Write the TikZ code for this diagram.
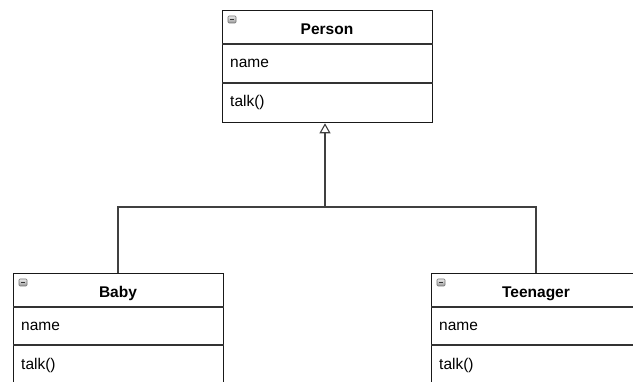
\documentclass[tikz,border=0pt]{standalone}
\usepackage{fontspec}
\setmainfont{Liberation Sans}
\usetikzlibrary{arrows.meta}
\begin{document}
\begin{tikzpicture}[x=1pt,y=-1pt,
  classbox/.style={draw=black!90, line width=1.3pt, fill=white, inner sep=0pt,
    minimum width=210pt, anchor=north west},
  sep/.style={draw=black!80, line width=1.3pt},
  link/.style={draw=black!75, line width=1.4pt},
  title/.style={font=\fontsize{15.5}{18}\selectfont\bfseries, anchor=base, inner sep=0pt},
  member/.style={font=\fontsize{15.5}{18}\selectfont, anchor=base west, inner sep=0pt},
  collapse/.pic={
    \shade[top color=black!8, bottom color=black!40, draw=black!55, line width=0.6pt,
      rounded corners=1pt] (0,0) rectangle (8,7);
    \draw[black!80, line width=1.1pt] (2,3.5) -- (6,3.5);
  }]
\useasboundingbox (0,0) rectangle (633,382);
\clip (0,0) rectangle (633,382);

% Person
\node[classbox, minimum height=112pt] (person) at (222,10) {};
\draw[sep] ([yshift=-34pt]person.north west) -- ([yshift=-34pt]person.north east);
\draw[sep] ([yshift=-73pt]person.north west) -- ([yshift=-73pt]person.north east);
\pic at (228,16) {collapse};
\node[title] (personT) at (327,35) {Person};
\node[member] (personA) at (230,68) {name};
\node[member] (personM) at (230,107) {talk()};

% Baby
\node[classbox, minimum height=130pt] (baby) at (13,273) {};
\draw[sep] ([yshift=-34pt]baby.north west) -- ([yshift=-34pt]baby.north east);
\draw[sep] ([yshift=-72pt]baby.north west) -- ([yshift=-72pt]baby.north east);
\pic at (19,279) {collapse};
\node[title] (babyT) at (118,298) {Baby};
\node[member] (babyA) at (21,331) {name};
\node[member] (babyM) at (21,370) {talk()};

% Teenager (runs past the right edge)
\node[classbox, minimum height=130pt, minimum width=230pt] (teen) at (431,273) {};
\draw[sep] ([yshift=-34pt]teen.north west) -- ([yshift=-34pt]teen.north east);
\draw[sep] ([yshift=-72pt]teen.north west) -- ([yshift=-72pt]teen.north east);
\pic at (437,279) {collapse};
\node[title] (teenT) at (536,298) {Teenager};
\node[member] (teenA) at (439,331) {name};
\node[member] (teenM) at (439,370) {talk()};

% generalisation
\coordinate (joint) at (325,207);
\draw[link] (baby.north -| 118,0) |- (joint) -| (teen.north -| 536,0);
\draw[link, -{Triangle[open, width=11pt, length=10pt, line width=1.1pt]}]
  (joint) -- (person.south -| joint);
\end{tikzpicture}
\end{document}
